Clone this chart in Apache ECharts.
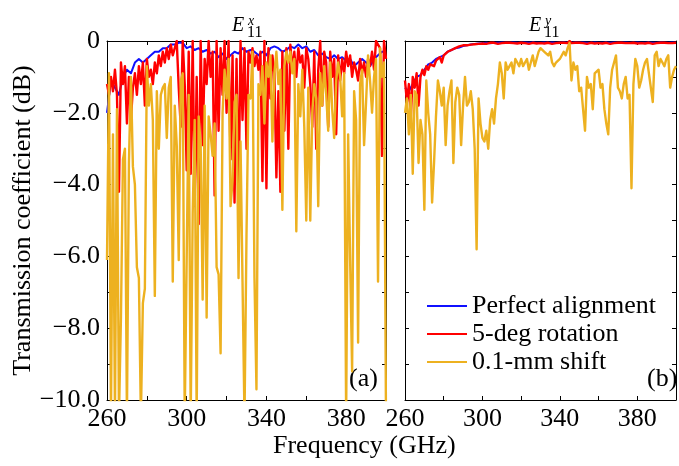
<!DOCTYPE html>
<html>
<head>
<meta charset="utf-8">
<script src="https://cdn.jsdelivr.net/npm/echarts@6/dist/echarts.min.js"></script>
<style>
  html, body { margin: 0; padding: 0; background: #fff; }
  #chart { width: 679px; height: 466px; }
</style>
</head>
<body>
<div id="chart"></div>
<script>
// Transmission coefficient (dB) of the E11 modes vs frequency, 260-400 GHz.
// Sampled on a regular frequency grid: value i sits at START + i * STEP GHz.
const FREQ_START = 260;

// ---- Panel (a): E11^x ----
const STEP_A_BLUE = 2;
const exPerfect = [
  -2.0, -1.1, -1.3, -1.5, -1.0, -0.8, -0.9, -0.6, -0.5, -0.6,
  -0.5, -0.4, -0.3, -0.3, -0.2, -0.2, -0.1, -0.1, -0.05, -0.05,
  -0.2, -0.15, -0.25, -0.2, -0.3, -0.25, -0.35, -0.3, -0.45, -0.35,
  -0.5, -0.4, -0.3, -0.35, -0.2, -0.3, -0.25, -0.3, -0.4, -0.3,
  -0.4, -0.2, -0.15, -0.2, -0.3, -0.25, -0.15, -0.2, -0.1, -0.2,
  -0.15, -0.3, -0.25, -0.4, -0.35, -0.45, -0.5, -0.4, -0.5, -0.45,
  -0.55, -0.5, -0.7, -0.6, -0.5, -0.6, -0.7, -0.5, -0.4, -0.3,
  -0.3
];
const STEP_A = 1;
const exRotation = [
  -1.2, -1.5, -1.0, -1.4, -0.8, -1.5, -4.2, -0.6, -1.2, -0.7,
  -2.3, -1.0, -2.2, -1.3, -0.9, -1.5, -0.7, -1.2, -0.6, -1.8,
  -0.5, -1.0, -0.8, -1.2, -0.6, -0.9, -0.4, -0.7, -0.3, -0.6,
  -0.2, -0.5, -0.1, -0.4, -0.2, 0.0, -1.3, -2.4, 0.0, -1.2,
  -3.6, -0.3, -3.7, 0.0, -4.6, -1.0, -5.1, 0.0, -2.9, -0.5,
  -1.2, 0.0, -1.0, -0.3, -4.3, 0.0, -2.5, -0.2, -1.5, 0.0,
  -2.0, 0.0, -3.3, -0.4, -4.5, -0.5, -4.5, 0.0, -2.2, -0.2,
  -3.0, -0.3, -0.6, -0.2, -0.7, -0.4, -0.8, -0.3, -3.9, 0.0,
  -4.1, -0.2, -1.6, -0.4, -0.9, -3.8, -1.4, -4.2, -0.3, -2.5,
  -0.2, -3.0, -0.1, -0.8, -0.3, -1.0, -0.2, -0.6, -0.4, -1.3,
  -0.2, -0.5, -1.2, -2.4, -0.3, -3.0, -0.8, 0.0, -1.8, -0.3,
  -0.6, -2.4, -0.3, -1.0, -0.5, -2.6, -0.4, -1.1, -0.5, -0.9,
  -0.3, -0.7, -0.4, -1.0, -0.6, -0.8, -1.1, -0.5, -0.9, -0.6,
  -1.0, -0.5, -0.7, -0.3, -0.8, 0.0, 0.0, -0.2, -3.2, 0.0,
  -0.5
];
const exShift = [
  -6.1, -0.9, -10.5, -2.6, -10.5, -1.9, -10.5, -7.7, -3.3, -3.0,
  -10.5, -3.4, -1.0, -3.5, -4.0, -6.3, -6.6, -10.5, -7.3, -6.9,
  -0.7, -1.8, -1.2, -2.2, -7.1, -1.4, -3.0, -1.5, -1.3, -1.2,
  -2.7, -1.3, -1.0, -6.7, -1.8, -2.9, -6.1, -1.1, -0.9, -10.5,
  -10.5, -1.5, -10.5, -4.8, -2.2, -10.5, -2.1, -2.9, -7.2, -1.8,
  -7.7, -2.1, -2.6, -3.2, -2.3, -6.3, -6.5, -8.7, -2.0, -0.8,
  -1.6, -0.5, -4.6, -3.9, -1.7, -1.5, -6.6, -2.8, -6.7, -10.5,
  -5.4, -1.5, -1.6, -0.3, -6.6, -9.7, -1.2, -1.5, -0.7, -2.3,
  -0.6, -1.0, -0.4, -2.8, -0.9, -0.3, -1.2, -0.8, -4.7, -0.7,
  -0.3, -0.6, -0.3, -0.9, -0.5, -5.3, -1.2, -2.1, -0.8, -2.4,
  -5.0, -1.3, -5.0, -2.0, -1.2, -1.6, -4.6, -0.9, -1.8, -0.7,
  -1.5, -2.5, -0.6, -1.9, -2.7, -1.1, -0.6, -1.0, -2.1, -0.9,
  -10.5, -2.6, -6.1, -9.2, -1.4, -2.2, -8.4, -1.2, -0.8, -2.9,
  -1.7, -0.4, -1.1, -2.0, -1.0, -0.5, -6.7, -0.2, -1.0, -0.6,
  -10.5
];

// ---- Panel (b): E11^y ----
const STEP_B_BLUE = 2;
const eyPerfect = [
  -1.3, -1.4, -1.2, -1.0, -0.95, -0.8, -0.65, -0.6, -0.5, -0.45,
  -0.4, -0.3, -0.25, -0.2, -0.18, -0.14, -0.12, -0.1, -0.08, -0.07,
  -0.06, -0.05, -0.06, -0.05, -0.05, -0.04, -0.05, -0.05, -0.04, -0.05,
  -0.05, -0.04, -0.05, -0.04, -0.05, -0.05, -0.04, -0.05, -0.04, -0.05,
  -0.05, -0.04, -0.05, -0.05, -0.04, -0.05, -0.04, -0.05, -0.05, -0.04,
  -0.05, -0.05, -0.04, -0.05, -0.04, -0.05, -0.05, -0.04, -0.05, -0.05,
  -0.04, -0.05, -0.05, -0.04, -0.05, -0.05, -0.04, -0.05, -0.05, -0.04,
  -0.05
];
const STEP_B = 1;
const eyRotation = [
  -1.1, -1.7, -1.2, -2.1, -1.0, -1.3, -0.9, -1.8, -1.0, -0.8,
  -0.95, -0.7, -0.8, -0.65, -0.6, -0.7, -0.55, -0.5, -0.45, -0.6,
  -0.4, -0.35, -0.3, -0.3, -0.25, -0.25, -0.2, -0.2, -0.15, -0.15,
  -0.12, -0.1, -0.12, -0.08, -0.1, -0.07, -0.09, -0.06, -0.08, -0.06,
  -0.07, -0.05, -0.08, -0.06, -0.05, -0.07, -0.05, -0.06, -0.08, -0.05,
  -0.06, -0.07, -0.05, -0.06, -0.05, -0.08, -0.06, -0.05, -0.07, -0.06,
  -0.05, -0.07, -0.06, -0.05, -0.08, -0.06, -0.05, -0.06, -0.07, -0.05,
  -0.06, -0.05, -0.07, -0.06, -0.05, -0.06, -0.08, -0.05, -0.06, -0.07,
  -0.05, -0.06, -0.05, -0.07, -0.06, 0.0, -0.06, -0.07, -0.05, -0.06,
  -0.05, -0.07, -0.06, -0.05, -0.08, -0.06, -0.05, -0.06, -0.07, -0.05,
  -0.06, -0.05, -0.07, -0.06, -0.05, -0.06, -0.08, -0.05, -0.06, -0.07,
  -0.05, -0.06, -0.05, -0.07, -0.06, -0.05, -0.06, -0.08, -0.05, -0.06,
  -0.07, -0.05, -0.06, -0.05, -0.07, -0.06, -0.05, -0.06, -0.08, -0.05,
  -0.06, -0.07, -0.05, -0.06, -0.05, -0.07, -0.06, -0.05, -0.06, -0.07,
  -0.05
];
const eyShift = [
  -2.0, -1.6, -2.6, -1.5, -3.7, -1.4, -1.5, -3.4, -2.2, -2.6,
  -4.7, -1.1, -2.0, -2.6, -4.5, -3.4, -2.1, -1.1, -1.4, -1.8,
  -1.3, -2.9, -1.8, -1.4, -1.1, -3.4, -1.7, -1.3, -1.5, -2.9,
  -1.8, -1.0, -1.8, -1.7, -1.4, -1.9, -3.0, -5.8, -1.6, -2.3,
  -2.7, -2.8, -2.5, -3.0, -2.2, -1.9, -2.3, -1.6, -1.2, -0.6,
  -0.9, -1.6, -0.6, -0.8, -0.7, -0.6, -0.9, -0.5, -0.6, -0.7,
  -0.5, -0.7, -0.6, -0.5, -0.8, -0.6, -0.4, -0.7, -0.5, -0.3,
  -0.2, -0.2, -0.3, -0.3, -0.4, -0.3, -0.6, -0.7, -0.6, -0.6,
  -0.5, -0.5, -0.3, -0.4, -0.2, -0.05, -1.1, -0.6, -0.8, -0.7,
  -1.4, -1.3, -1.3, -2.5, -1.0, -1.3, -1.2, -1.9, -0.9, -0.9,
  -0.8, -1.3, -1.2, -1.9, -2.3, -2.6, -1.3, -0.8, -0.8, -0.4,
  -1.3, -1.4, -1.6, -1.2, -1.0, -1.6, -1.5, -4.1, -1.2, -0.5,
  -0.7, -1.3, -1.1, -0.8, -0.6, -0.5, -0.9, -0.9, -1.7, -0.4,
  -0.3, -0.7, -0.5, -0.6, -0.7, -0.5, -0.4, -1.3, -1.0, -0.8,
  -0.7
];

const X_MIN = 260, X_MAX = 400, X_STEP = 20;
const X_LABELS = [260, 300, 340, 380];
const Y_MIN = -10, Y_MAX = 0;
const Y_LABELS = [0, -2, -4, -6, -8, -10];

const NAMES = ['Perfect alignment', '5-deg rotation', '0.1-mm shift'];
const COLORS = ['#1010ff', '#ff0000', '#edb120'];

function toPairs(values, step) {
  return values.map((v, i) => [FREQ_START + i * step, v]);
}

const FONT = 'Liberation Serif, Times New Roman, serif';
const FS = 26;

const chart = echarts.init(document.getElementById('chart'), null, { renderer: 'canvas' });

function xAxisFor(gridIndex, position, showLabels) {
  return {
    type: 'value', gridIndex, position, min: X_MIN, max: X_MAX, interval: X_STEP,
    axisLine: { show: true, onZero: false, lineStyle: { color: '#000', width: 1 } },
    axisTick: { show: true, inside: true, length: 4, lineStyle: { color: '#000' } },
    splitLine: { show: false },
    axisLabel: {
      show: showLabels, margin: 6, color: '#000', fontFamily: FONT, fontSize: FS,
      formatter: v => (X_LABELS.includes(v) ? String(v) : '')
    }
  };
}

function yAxisFor(gridIndex, position, showLabels) {
  return {
    type: 'value', gridIndex, position, min: Y_MIN, max: Y_MAX, interval: 1,
    axisLine: { show: true, onZero: false, lineStyle: { color: '#000', width: 1 } },
    axisTick: { show: true, inside: true, length: 4, lineStyle: { color: '#000' } },
    splitLine: { show: false },
    axisLabel: {
      show: showLabels, margin: 7, color: '#000', fontFamily: FONT, fontSize: FS,
      formatter: v => {
        if (!Y_LABELS.includes(v)) return '';
        if (v === 0) return '0';
        return '\u2212' + Math.abs(v).toFixed(1);
      }
    }
  };
}

function lineSeries(name, values, step, axisIdx, width, color) {
  return {
    name, type: 'line', data: toPairs(values, step),
    xAxisIndex: axisIdx, yAxisIndex: axisIdx,
    symbol: 'none', clip: true, animation: false,
    lineStyle: { color, width, join: 'round' },
    itemStyle: { color }
  };
}

// Italic E with stacked superscript and subscript, used for the panel titles
function modeTitle(x, sup) {
  return {
    type: 'group', left: x, top: 14,
    children: [
      { type: 'text', x: 0, y: 2, style: { text: 'E', fontFamily: FONT, fontStyle: 'italic', fontSize: 20, fill: '#000' } },
      { type: 'text', x: 16, y: 0, style: { text: sup, fontFamily: FONT, fontStyle: 'italic', fontSize: 14, fill: '#000' } },
      { type: 'text', x: 15, y: 11, style: { text: '11', fontFamily: FONT, fontSize: 16, fill: '#000' } }
    ]
  };
}

const option = {
  backgroundColor: '#fff',
  animation: false,
  grid: [
    { left: 107, top: 41, width: 279, height: 359 },
    { left: 405, top: 41, width: 280, height: 359 }
  ],
  xAxis: [
    xAxisFor(0, 'bottom', true),
    xAxisFor(1, 'bottom', true),
    xAxisFor(0, 'top', false),
    xAxisFor(1, 'top', false)
  ],
  yAxis: [
    Object.assign(yAxisFor(0, 'left', true), {
      name: 'Transmission coefficient (dB)', nameLocation: 'middle', nameGap: 66,
      nameTextStyle: { color: '#000', fontFamily: FONT, fontSize: FS }
    }),
    yAxisFor(1, 'left', false),
    yAxisFor(0, 'right', false),
    yAxisFor(1, 'right', false)
  ],
  legend: {
    orient: 'vertical', left: 422, top: 288,
    itemWidth: 40, itemHeight: 2, itemGap: 2,
    icon: 'rect',
    data: NAMES,
    textStyle: { color: '#000', fontFamily: FONT, fontSize: FS }
  },
  series: [
    lineSeries(NAMES[0], exPerfect, STEP_A_BLUE, 0, 2, COLORS[0]),
    lineSeries(NAMES[1], exRotation, STEP_A, 0, 2.4, COLORS[1]),
    lineSeries(NAMES[2], exShift, STEP_A, 0, 2.4, COLORS[2]),
    lineSeries(NAMES[0], eyPerfect, STEP_B_BLUE, 1, 2, COLORS[0]),
    lineSeries(NAMES[1], eyRotation, STEP_B, 1, 2.4, COLORS[1]),
    lineSeries(NAMES[2], eyShift, STEP_B, 1, 2.4, COLORS[2])
  ],
  graphic: [
    modeTitle(232, 'x'),
    modeTitle(529, 'y'),
    { type: 'text', left: 349, top: 366, style: { text: '(a)', fontFamily: FONT, fontSize: FS, fill: '#000' } },
    { type: 'text', left: 647, top: 366, style: { text: '(b)', fontFamily: FONT, fontSize: FS, fill: '#000' } },
    { type: 'text', left: 273, top: 433, style: { text: 'Frequency (GHz)', fontFamily: FONT, fontSize: FS, fill: '#000' } }
  ]
};

chart.setOption(option);
</script>
</body>
</html>
